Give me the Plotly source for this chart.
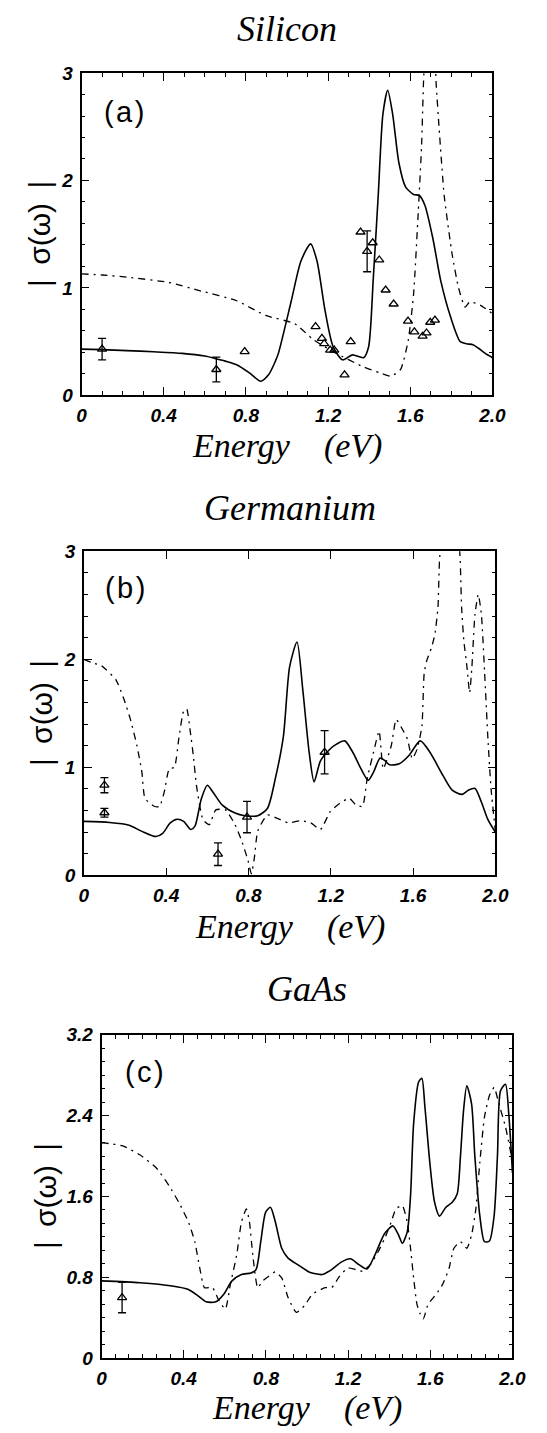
import plotly.graph_objects as go

W, H = 547, 1433

# ---------------- Data: (a) Silicon ----------------
si_th_E = [0, 0.10, 0.22, 0.35, 0.49, 0.60, 0.645, 0.70, 0.755, 0.817, 0.872, 0.911, 0.943, 0.958,
           1.021, 1.068, 1.115, 1.146, 1.185, 1.225, 1.271, 1.318, 1.373, 1.397, 1.420, 1.444, 1.467,
           1.49, 1.514, 1.545, 1.577, 1.616, 1.644, 1.671, 1.71, 1.749, 1.796, 1.843, 1.874, 1.905,
           1.93, 1.965, 2.0]
si_th_v = [0.43, 0.425, 0.416, 0.405, 0.39, 0.365, 0.345, 0.318, 0.284, 0.208, 0.131, 0.193, 0.315, 0.39,
           0.88, 1.25, 1.41, 1.25, 0.79, 0.45, 0.33, 0.376, 0.35, 0.45, 1.09, 1.86, 2.62,
           2.84, 2.62, 2.16, 1.94, 1.87, 1.86, 1.77, 1.46, 1.06, 0.73, 0.50, 0.48, 0.47,
           0.44, 0.39, 0.35]
si_dd_E = [0, 0.10, 0.222, 0.426, 0.583, 0.755, 0.896, 1.037, 1.131, 1.24, 1.365, 1.45, 1.506, 1.553,
           1.59, 1.616, 1.639, 1.655, 1.666, 1.69, 1.715, 1.726, 1.741, 1.765, 1.804, 1.835, 1.867,
           1.89, 1.94, 2.0]
si_dd_v = [1.13, 1.12, 1.10, 1.05, 0.97, 0.88, 0.743, 0.667, 0.514, 0.39, 0.27, 0.21, 0.177, 0.24,
           0.51, 0.94, 1.71, 2.32, 2.99, 3.6, 3.4, 2.90, 2.47, 1.86, 1.31, 1.0, 0.82,
           0.87, 0.84, 0.76]
si_exp_E = [0.10, 0.656, 0.794, 1.139, 1.17, 1.181, 1.21, 1.23, 1.28, 1.31, 1.358, 1.39, 1.417, 1.449,
            1.48, 1.519, 1.589, 1.62, 1.66, 1.679, 1.697, 1.72]
si_exp_v = [0.43, 0.24, 0.406, 0.64, 0.53, 0.48, 0.42, 0.42, 0.19, 0.50, 1.52, 1.34, 1.42, 1.26,
            0.98, 0.85, 0.69, 0.59, 0.55, 0.58, 0.68, 0.70]
si_exp_err = [0.10, 0.115, 0, 0, 0, 0, 0, 0, 0, 0, 0, 0.19, 0, 0,
              0, 0, 0, 0, 0, 0, 0, 0]

# ---------------- Data: (b) Germanium ----------------
ge_th_E = [0, 0.125, 0.22, 0.28, 0.35, 0.383, 0.42, 0.454, 0.485, 0.52, 0.54, 0.571, 0.60, 0.626,
           0.673, 0.735, 0.782, 0.845, 0.892, 0.931, 0.97, 1.0, 1.036, 1.064, 1.095, 1.119, 1.15,
           1.197, 1.228, 1.268, 1.307, 1.346, 1.382, 1.408, 1.44, 1.463, 1.486, 1.533, 1.58, 1.635,
           1.682, 1.745, 1.79, 1.838, 1.87, 1.901, 1.932, 1.964, 2.0]
ge_th_v = [0.50, 0.49, 0.465, 0.41, 0.36, 0.39, 0.486, 0.52, 0.50, 0.425, 0.456, 0.71, 0.835, 0.775,
           0.65, 0.577, 0.553, 0.553, 0.62, 0.90, 1.29, 1.93, 2.16, 1.72, 1.14, 0.866, 1.06,
           1.17, 1.215, 1.245, 1.14, 0.99, 0.88, 0.957, 1.087, 1.063, 1.024, 1.033, 1.11, 1.245,
           1.14, 0.926, 0.79, 0.75, 0.79, 0.805, 0.68, 0.516, 0.40]
ge_dd_E = [0, 0.039, 0.086, 0.156, 0.195, 0.227, 0.258, 0.282, 0.297, 0.344, 0.368, 0.391, 0.415, 0.44,
           0.461, 0.485, 0.50, 0.516, 0.532, 0.547, 0.579, 0.61, 0.641, 0.688, 0.735, 0.767, 0.798,
           0.814, 0.829, 0.845, 0.892, 0.955, 0.994, 1.056, 1.103, 1.15, 1.197, 1.244, 1.291, 1.322,
           1.354, 1.377, 1.408, 1.435, 1.455, 1.494, 1.518, 1.549, 1.573, 1.596, 1.62, 1.643, 1.654,
           1.667, 1.69, 1.706, 1.721, 1.729, 1.76, 1.80, 1.828, 1.836, 1.847, 1.862, 1.875, 1.886,
           1.901, 1.917, 1.932, 1.948, 1.964, 1.979, 2.0]
ge_dd_v = [2.0, 1.97, 1.94, 1.81, 1.63, 1.44, 1.20, 0.957, 0.714, 0.638, 0.638, 0.775, 0.987, 1.0,
           1.26, 1.52, 1.54, 1.35, 1.11, 0.835, 0.516, 0.47, 0.607, 0.607, 0.47, 0.32, 0.137,
           0.015, 0.167, 0.41, 0.56, 0.516, 0.486, 0.507, 0.486, 0.425, 0.59, 0.668, 0.714, 0.653,
           0.638, 0.896, 1.14, 1.336, 0.987, 1.2, 1.443, 1.35, 1.26, 1.08, 1.17, 1.38, 1.87,
           1.99, 2.11, 2.23, 2.48, 2.93, 3.5, 3.5, 2.96, 2.48, 2.17, 1.93, 1.69, 1.93,
           2.42, 2.6, 2.42, 1.87, 1.26, 0.805, 0.41]
ge_exp_E = [0.10, 0.10, 0.652, 0.793, 1.17]
ge_exp_v = [0.835, 0.58, 0.197, 0.54, 1.14]
ge_exp_err = [0.07, 0.04, 0.105, 0.145, 0.20]

# ---------------- Data: (c) GaAs ----------------
ga_th_E = [0, 0.188, 0.344, 0.423, 0.47, 0.509, 0.556, 0.595, 0.634, 0.681, 0.728, 0.752, 0.775, 0.799,
           0.822, 0.846, 0.877, 0.908, 0.955, 1.01, 1.073, 1.12, 1.167, 1.211, 1.253, 1.292, 1.331,
           1.378, 1.418, 1.446, 1.464, 1.488, 1.504, 1.519, 1.543, 1.559, 1.574, 1.598, 1.621, 1.645,
           1.676, 1.707, 1.731, 1.747, 1.762, 1.778, 1.801, 1.817, 1.841, 1.864, 1.888, 1.911, 1.927,
           1.942, 1.966, 1.982, 2.0]
ga_th_v = [0.765, 0.747, 0.714, 0.68, 0.617, 0.558, 0.558, 0.633, 0.763, 0.828, 0.844, 0.877, 1.153, 1.445,
           1.494, 1.348, 1.088, 0.99, 0.926, 0.854, 0.828, 0.877, 0.951, 0.984, 0.926, 0.883, 1.023,
           1.234, 1.309, 1.218, 1.137, 1.25, 1.608, 2.32, 2.73, 2.77, 2.485, 1.933, 1.543, 1.406,
           1.494, 1.543, 1.624, 1.998, 2.45, 2.696, 2.517, 2.0, 1.413, 1.153, 1.16, 1.413, 2.0,
           2.647, 2.71, 2.42, 1.835]
ga_dd_E = [0, 0.055, 0.11, 0.188, 0.266, 0.329, 0.376, 0.423, 0.454, 0.478, 0.501, 0.54, 0.572, 0.603,
           0.627, 0.658, 0.681, 0.705, 0.72, 0.736, 0.76, 0.783, 0.814, 0.846, 0.877, 0.908, 0.948,
           0.987, 1.026, 1.089, 1.12, 1.159, 1.198, 1.237, 1.269, 1.308, 1.347, 1.378, 1.41, 1.433,
           1.464, 1.488, 1.504, 1.519, 1.535, 1.551, 1.566, 1.59, 1.629, 1.66, 1.692, 1.715, 1.747,
           1.778, 1.801, 1.822, 1.841, 1.864, 1.888, 1.911, 1.934, 1.966, 2.0]
ga_dd_v = [2.13, 2.12, 2.095, 2.01, 1.884, 1.705, 1.543, 1.348, 1.153, 0.893, 0.698, 0.698, 0.568, 0.487,
           0.731, 1.023, 1.348, 1.478, 1.348, 1.023, 0.698, 0.763, 0.812, 0.854, 0.795, 0.6, 0.454,
           0.519, 0.633, 0.698, 0.698, 0.812, 0.893, 0.877, 0.861, 0.926, 1.056, 1.185, 1.348, 1.478,
           1.51, 1.348, 1.088, 0.795, 0.536, 0.439, 0.39, 0.536, 0.633, 0.731, 0.893, 1.088, 1.153,
           1.088, 1.218, 1.478, 1.933, 2.388, 2.599, 2.68, 2.517, 2.29, 1.95]
ga_exp_E = [0.10]
ga_exp_v = [0.60]
ga_exp_err = [0.15]

# ---------------- Tick labels ----------------
x_tickvals = [0, 0.4, 0.8, 1.2, 1.6, 2.0]
x_ticktext = ["0", "0.4", "0.8", "1.2", "1.6", "2.0"]
y_tickvals_ab = [0, 1, 2, 3]
y_ticktext_ab = ["0", "1", "2", "3"]
y_tickvals_c = [0, 0.8, 1.6, 2.4, 3.2]
y_ticktext_c = ["0", "0.8", "1.6", "2.4", "3.2"]

titles = ["Silicon", "Germanium", "GaAs"]
panel_tags = ["(\u200aa\u200a)", "(\u200ab\u200a)", "(\u200ac\u200a)"]
xlabel = "Energy\u00a0\u00a0\u00a0\u00a0(eV)"
ylabel = "|\u00a0\u2009\u03c3(\u03c9)\u2009\u00a0|"

# ---------------- Layout geometry (pixels) ----------------
def fx(p):
    return p / W

def fy(p):
    return 1 - p / H

# (left, right, top, bottom) of each frame in pixels
frames = [(79.3, 505.0, 64.0, 391.0), (81.7, 508.0, 549.3, 878.3), (100.0, 525.7, 1040.0, 1368.3)]

fig = go.Figure()

solid = dict(color="black", width=1.6, shape="spline", smoothing=0.7)
dashdot = dict(color="black", width=1.3, dash="7px,5px,2px,5px", shape="spline", smoothing=0.5)
marker = dict(symbol="triangle-up-open", size=8, color="black", line=dict(width=1.3, color="black"))

panels = [
    (si_th_E, si_th_v, si_dd_E, si_dd_v, si_exp_E, si_exp_v, si_exp_err),
    (ge_th_E, ge_th_v, ge_dd_E, ge_dd_v, ge_exp_E, ge_exp_v, ge_exp_err),
    (ga_th_E, ga_th_v, ga_dd_E, ga_dd_v, ga_exp_E, ga_exp_v, ga_exp_err),
]

for i, (tE, tv, dE, dv, eE, ev, ee) in enumerate(panels):
    xa = "x" if i == 0 else f"x{i+1}"
    ya = "y" if i == 0 else f"y{i+1}"
    fig.add_trace(go.Scatter(x=dE, y=dv, mode="lines", line=dashdot, xaxis=xa, yaxis=ya,
                             hoverinfo="skip"))
    fig.add_trace(go.Scatter(x=tE, y=tv, mode="lines", line=solid, xaxis=xa, yaxis=ya))
    # points with error bars
    wE = [e for e, r in zip(eE, ee) if r > 0]
    wv = [v for v, r in zip(ev, ee) if r > 0]
    wr = [r for r in ee if r > 0]
    if wE:
        fig.add_trace(go.Scatter(x=wE, y=wv, mode="markers", marker=marker, xaxis=xa, yaxis=ya,
                                 error_y=dict(type="data", array=wr, visible=True, color="black",
                                              thickness=1.3, width=4), cliponaxis=False))
    nE = [e for e, r in zip(eE, ee) if r == 0]
    nv = [v for v, r in zip(ev, ee) if r == 0]
    if nE:
        fig.add_trace(go.Scatter(x=nE, y=nv, mode="markers", marker=marker, xaxis=xa, yaxis=ya))

tickfont = dict(family="Liberation Sans", size=19, color="black", weight="bold", style="italic")

def xaxis_cfg(i, minor_dtick):
    l, r, t, b = frames[i]
    cfg = dict(domain=[fx(l), fx(r)], range=[0, 2.0], tickmode="array", tickvals=x_tickvals,
               ticktext=x_ticktext, ticks="inside", ticklen=8, tickwidth=1.3, tickcolor="black",
               showline=True, linewidth=1.6, linecolor="black", mirror="allticks",
               showgrid=False, zeroline=False, tickfont=tickfont, ticklabelstandoff=2,
               anchor="y" if i == 0 else f"y{i+1}")
    if minor_dtick:
        cfg["minor"] = dict(tickmode="linear", tick0=0, dtick=minor_dtick, ticks="inside",
                            ticklen=4, tickwidth=1.1, tickcolor="black", showgrid=False)
    return cfg

def yaxis_cfg(i, rng, tv, tt, minor_dtick):
    l, r, t, b = frames[i]
    return dict(domain=[fy(b), fy(t)], range=rng, tickmode="array", tickvals=tv, ticktext=tt,
                ticks="inside", ticklen=8, tickwidth=1.3, tickcolor="black",
                showline=True, linewidth=1.6, linecolor="black", mirror="allticks",
                showgrid=False, zeroline=False, tickfont=tickfont, ticklabelstandoff=3,
                anchor="x" if i == 0 else f"x{i+1}",
                minor=dict(tickmode="linear", tick0=0, dtick=minor_dtick, ticks="inside",
                           ticklen=4, tickwidth=1.1, tickcolor="black", showgrid=False))

annotations = []
title_font = dict(family="Liberation Serif", size=36, color="black", style="italic")
xlab_font = dict(family="Liberation Serif", size=34, color="black", style="italic")
ylab_font = dict(family="Liberation Sans", size=30, color="black")
tag_font = dict(family="Liberation Sans", size=29, color="black")

title_y = [19, 505, 994]
xlab_off = [51, 52, 50]
ylab_x = [35, 38, 42]
tag_pos = [(123, 103.5), (124, 587), (145, 1077.5)]
for i in range(3):
    l, r, t, b = frames[i]
    cx = (l + r) / 2
    annotations.append(dict(text=titles[i], x=fx(cx), y=fy(title_y[i]), xref="paper", yref="paper",
                            xanchor="center", yanchor="middle", showarrow=False, font=title_font))
    annotations.append(dict(text=xlabel, x=fx(cx), y=fy(b + xlab_off[i]), xref="paper", yref="paper",
                            xanchor="center", yanchor="middle", showarrow=False, font=xlab_font))
    annotations.append(dict(text=ylabel, x=fx(ylab_x[i]), y=fy((t + b) / 2), xref="paper", yref="paper",
                            xanchor="center", yanchor="middle", showarrow=False, textangle=-90,
                            font=ylab_font))
    annotations.append(dict(text=panel_tags[i], x=fx(tag_pos[i][0]), y=fy(tag_pos[i][1]),
                            xref="paper", yref="paper", xanchor="center", yanchor="middle",
                            showarrow=False, font=tag_font))

fig.update_layout(
    width=W, height=H, autosize=False,
    margin=dict(l=0, r=0, t=0, b=0),
    paper_bgcolor="white", plot_bgcolor="white",
    showlegend=False,
    xaxis=xaxis_cfg(0, 0.1),
    xaxis2=xaxis_cfg(1, None),
    xaxis3=xaxis_cfg(2, 0.4 / 6),
    yaxis=yaxis_cfg(0, [0, 3], y_tickvals_ab, y_ticktext_ab, 0.2),
    yaxis2=yaxis_cfg(1, [0, 3], y_tickvals_ab, y_ticktext_ab, 0.2),
    yaxis3=yaxis_cfg(2, [0, 3.2], y_tickvals_c, y_ticktext_c, 0.8 / 6),
    annotations=annotations,
)

fig.write_html("out.html")
